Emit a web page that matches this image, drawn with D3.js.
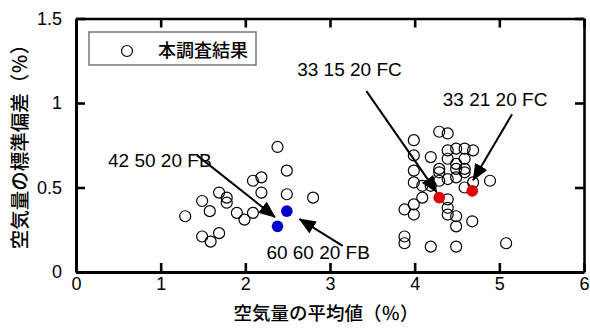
<!DOCTYPE html>
<meta charset="utf-8">
<title>空気量の平均値と標準偏差</title>
<style>
    body { margin: 0; background: #fff; }
    text { font-family: "Liberation Sans", Arial, sans-serif; fill: #000; }
    .jp { font-family: "Noto Sans CJK JP", sans-serif; font-weight: 500; }
</style>

<script src="https://d3js.org/d3.v7.min.js"></script>

<svg id="chart" width="590" height="329"></svg>

<script>
    // 本調査結果 (open circles): mean and standard deviation of air content, %
    const surveyMean = [1.29, 1.49, 1.58, 1.69, 1.78, 1.78, 1.49, 1.59, 1.69, 1.90, 1.99, 2.09, 2.09, 2.19, 2.19, 2.38, 2.49, 2.49, 2.80,
        4.29, 4.39, 3.99, 4.39, 4.49, 4.59, 4.69, 3.99, 4.19, 4.39, 4.59, 4.49,
        4.29, 4.29, 4.49, 4.59, 3.99, 4.59, 4.39, 4.49, 4.29, 4.69, 4.89,
        3.99, 4.09, 4.19, 4.59, 4.09, 4.39, 3.99, 3.88, 3.99,
        4.39, 4.39, 4.49, 4.49, 4.68, 3.88, 3.88, 4.19, 4.49, 5.08];
    const surveySD = [0.33, 0.42, 0.36, 0.47, 0.44, 0.41, 0.21, 0.18, 0.23, 0.35, 0.31, 0.35, 0.54, 0.56, 0.47, 0.74, 0.60, 0.46, 0.44,
        0.83, 0.82, 0.78, 0.72, 0.73, 0.73, 0.72, 0.69, 0.68, 0.67, 0.67, 0.64,
        0.61, 0.59, 0.61, 0.61, 0.60, 0.59, 0.55, 0.56, 0.54, 0.53, 0.54,
        0.53, 0.51, 0.51, 0.50, 0.44, 0.43, 0.40, 0.37, 0.34,
        0.38, 0.34, 0.33, 0.27, 0.30, 0.21, 0.17, 0.15, 0.15, 0.17];

    // FB mixes (blue) and FC mixes (red)
    const fbMean = [2.49, 2.38];
    const fbSD = [0.36, 0.27];
    const fcMean = [4.68, 4.29];
    const fcSD = [0.48, 0.44];

    // annotations: label, label centre, arrow tail, arrow tip (data units)
    const noteLabels = ["42 50 20 FB", "60 60 20 FB", "33 15 20 FC", "33 21 20 FC"];
    const noteText = [[0.99, 0.66], [2.86, 0.118], [3.23, 1.20], [4.95, 1.02]];
    const noteFrom = [[1.43, 0.69], [3.15, 0.154], [3.43, 1.07], [5.15, 0.933]];
    const noteTo = [[2.35, 0.325], [2.64, 0.313], [4.26, 0.473], [4.69, 0.543]];

    const xTicks = [0, 1, 2, 3, 4, 5, 6];
    const yTicks = [0, 0.5, 1, 1.5];

    const svg = d3.select("#chart");

    const x = d3.scaleLinear().domain([0, 6]).range([76, 584]);
    const y = d3.scaleLinear().domain([0, 1.5]).range([272, 18.5]);

    // arrow head
    svg.append("defs").append("marker")
        .attr("id", "head")
        .attr("markerUnits", "userSpaceOnUse")
        .attr("viewBox", "0 0 17 14")
        .attr("markerWidth", 17)
        .attr("markerHeight", 14)
        .attr("refX", 16)
        .attr("refY", 7)
        .attr("orient", "auto")
        .append("path")
        .attr("d", "M0,0 L17,7 L0,14 Z")
        .attr("fill", "#000");

    // axes, ticks pointing inward on all four sides
    const axBottom = svg.append("g")
        .attr("transform", `translate(0,${y(0)})`)
        .call(d3.axisBottom(x).tickValues(xTicks).tickSize(-9).tickSizeOuter(0).tickPadding(5).tickFormat(d3.format("d")));
    const axLeft = svg.append("g")
        .attr("transform", `translate(${x(0)},0)`)
        .call(d3.axisLeft(y).tickValues(yTicks).tickSize(-9).tickSizeOuter(0).tickPadding(14).tickFormat(d => d));
    const axTop = svg.append("g")
        .attr("transform", `translate(0,${y(1.5)})`)
        .call(d3.axisTop(x).tickValues(xTicks).tickSize(-9).tickSizeOuter(0).tickFormat(""));
    const axRight = svg.append("g")
        .attr("transform", `translate(${x(6)},0)`)
        .call(d3.axisRight(y).tickValues(yTicks).tickSize(-9).tickSizeOuter(0).tickFormat(""));

    [axBottom, axLeft, axTop, axRight].forEach(function(g) {
        g.select(".domain").attr("stroke", "#000").attr("stroke-width", 2.6);
        g.selectAll(".tick line").attr("stroke", "#000").attr("stroke-width", 2.6);
        g.selectAll(".tick text").style("font-size", "18px").attr("fill", "#000");
    });
    axLeft.select(".domain").attr("stroke-width", 3);
    axBottom.select(".domain").attr("stroke-width", 3);

    // survey points
    svg.append("g")
        .selectAll("circle")
        .data(surveyMean)
        .enter()
        .append("circle")
        .attr("cx", d => x(d))
        .attr("cy", (d, i) => y(surveySD[i]))
        .attr("r", 5.5)
        .attr("fill", "none")
        .attr("stroke", "#000")
        .attr("stroke-width", 1.2);

    svg.append("g")
        .selectAll("circle")
        .data(fbMean)
        .enter()
        .append("circle")
        .attr("cx", d => x(d))
        .attr("cy", (d, i) => y(fbSD[i]))
        .attr("r", 5.8)
        .attr("fill", "#0000cc");

    svg.append("g")
        .selectAll("circle")
        .data(fcMean)
        .enter()
        .append("circle")
        .attr("cx", d => x(d))
        .attr("cy", (d, i) => y(fcSD[i]))
        .attr("r", 5.8)
        .attr("fill", "#e00000");

    // annotation arrows and labels
    const notes = svg.append("g");
    noteLabels.forEach(function(label, i) {
        notes.append("line")
            .attr("x1", x(noteFrom[i][0]))
            .attr("y1", y(noteFrom[i][1]))
            .attr("x2", x(noteTo[i][0]))
            .attr("y2", y(noteTo[i][1]))
            .attr("stroke", "#000")
            .attr("stroke-width", 2)
            .attr("marker-end", "url(#head)");
        notes.append("text")
            .attr("x", x(noteText[i][0]))
            .attr("y", y(noteText[i][1]))
            .attr("text-anchor", "middle")
            .attr("dominant-baseline", "central")
            .style("font-size", "19px")
            .text(label);
    });

    // legend
    const legend = svg.append("g");
    legend.append("rect")
        .attr("x", 89).attr("y", 32)
        .attr("width", 167).attr("height", 33)
        .attr("fill", "#fff")
        .attr("stroke", "#777")
        .attr("stroke-width", 1.5);
    legend.append("circle")
        .attr("cx", 127).attr("cy", 51)
        .attr("r", 5.5)
        .attr("fill", "none")
        .attr("stroke", "#000")
        .attr("stroke-width", 1.2);
    legend.append("text")
        .attr("class", "jp")
        .attr("x", 158).attr("y", 49)
        .attr("dominant-baseline", "central")
        .style("font-size", "18px")
        .text("本調査結果");

    // axis titles
    svg.append("text")
        .attr("class", "jp")
        .attr("x", 326).attr("y", 312)
        .attr("text-anchor", "middle")
        .attr("dominant-baseline", "central")
        .style("font-size", "18.5px")
        .text("空気量の平均値（％）");

    svg.append("text")
        .attr("class", "jp")
        .attr("transform", "translate(18,142) rotate(-90)")
        .attr("text-anchor", "middle")
        .attr("dominant-baseline", "central")
        .style("font-size", "19.5px")
        .text("空気量の標準偏差（％）");
</script>
